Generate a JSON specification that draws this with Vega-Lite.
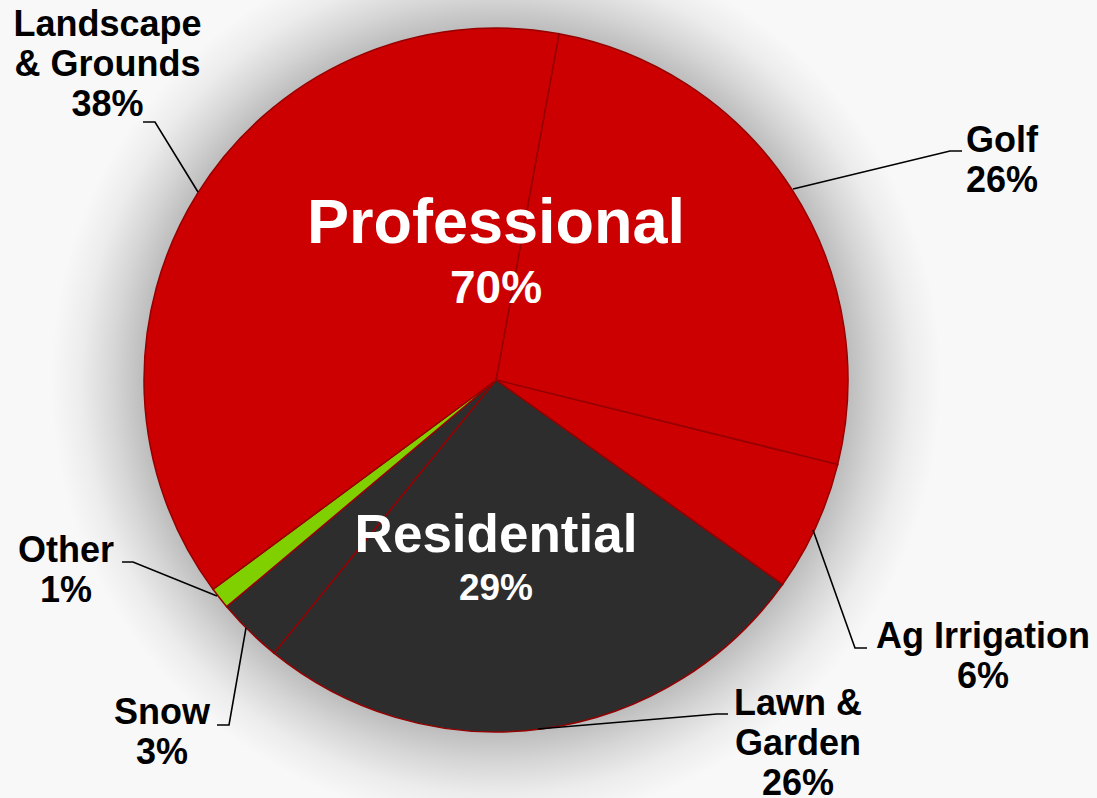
{
  "$schema": "https://vega.github.io/schema/vega-lite/v6.json",
  "width": 1097,
  "height": 798,
  "autosize": {"type": "none"},
  "padding": 0,
  "background": "#f8f8f8",
  "view": {"stroke": null},
  "config": {"font": "Liberation Sans"},
  "datasets": {
    "slices": [
      {"segment": "Golf", "group": "Professional", "share": 26, "idx": 1},
      {"segment": "Ag Irrigation", "group": "Professional", "share": 6, "idx": 2},
      {"segment": "Lawn & Garden", "group": "Residential", "share": 26, "idx": 3},
      {"segment": "Snow", "group": "Residential", "share": 3, "idx": 4},
      {"segment": "Other", "group": "Other", "share": 1, "idx": 5},
      {"segment": "Landscape & Grounds", "group": "Professional", "share": 38, "idx": 6}
    ],
    "labels": [
      {"text": "Landscape\n& Grounds\n38%", "kind": "outer", "x": -110.37, "y": 97.73},
      {"text": "Golf\n26%", "kind": "outer", "x": 143.75, "y": 64.77},
      {"text": "Ag Irrigation\n6%", "kind": "outer", "x": 138.35, "y": -76.14},
      {"text": "Lawn &\nGarden\n26%", "kind": "outer", "x": 85.8, "y": -95.17},
      {"text": "Snow\n3%", "kind": "outer", "x": -94.89, "y": -97.73},
      {"text": "Other\n1%", "kind": "outer", "x": -122.16, "y": -51.7},
      {"text": "Professional", "kind": "proName", "x": 0, "y": 38.92},
      {"text": "70%", "kind": "proPct", "x": 0, "y": 21.88},
      {"text": "Residential", "kind": "resName", "x": 0, "y": -48.86},
      {"text": "29%", "kind": "resPct", "x": 0, "y": -62.5}
    ],
    "leaders": [
      {"segment": "Landscape & Grounds", "pt": 1, "x": -100.28, "y": 73.3},
      {"segment": "Landscape & Grounds", "pt": 2, "x": -96.88, "y": 73.3},
      {"segment": "Landscape & Grounds", "pt": 3, "x": -84.66, "y": 53.41},
      {"segment": "Golf", "pt": 1, "x": 132.39, "y": 65.06},
      {"segment": "Golf", "pt": 2, "x": 128.98, "y": 65.06},
      {"segment": "Golf", "pt": 3, "x": 84.38, "y": 54.26},
      {"segment": "Ag Irrigation", "pt": 1, "x": 105.4, "y": -76.14},
      {"segment": "Ag Irrigation", "pt": 2, "x": 101.99, "y": -76.14},
      {"segment": "Ag Irrigation", "pt": 3, "x": 90.06, "y": -42.61},
      {"segment": "Lawn & Garden", "pt": 1, "x": 65.91, "y": -94.89},
      {"segment": "Lawn & Garden", "pt": 2, "x": 62.78, "y": -94.89},
      {"segment": "Lawn & Garden", "pt": 3, "x": 11.93, "y": -99.15},
      {"segment": "Snow", "pt": 1, "x": -79.26, "y": -98.01},
      {"segment": "Snow", "pt": 2, "x": -75.85, "y": -98.01},
      {"segment": "Snow", "pt": 3, "x": -71.02, "y": -70.45},
      {"segment": "Other", "pt": 1, "x": -106.25, "y": -51.7},
      {"segment": "Other", "pt": 2, "x": -103.13, "y": -51.7},
      {"segment": "Other", "pt": 3, "x": -79.26, "y": -61.36}
    ]
  },
  "layer": [
    {
      "data": {"values": [{"halo": 1}]},
      "mark": {
        "type": "arc",
        "theta": 0,
        "theta2": 6.2832,
        "outerRadius": 445,
        "fill": {
          "gradient": "radial",
          "x1": 0.5, "y1": 0.5, "r1": 0,
          "x2": 0.5, "y2": 0.5, "r2": 0.5,
          "stops": [
            {"offset": 0, "color": "#bcbcbc"},
            {"offset": 0.79, "color": "#bcbcbc"},
            {"offset": 0.86, "color": "#d6d6d6"},
            {"offset": 0.93, "color": "#ececec"},
            {"offset": 1, "color": "#f8f8f8"}
          ]
        }
      },
      "encoding": {
        "x": {"datum": 0, "type": "quantitative", "scale": {"domain": [-140.909, 170.739], "nice": false, "zero": false}, "axis": null},
        "y": {"datum": 0, "type": "quantitative", "scale": {"domain": [-118.75, 107.955], "nice": false, "zero": false}, "axis": null}
      }
    },
    {
      "data": {"name": "slices"},
      "mark": {"type": "arc", "outerRadius": 352, "stroke": "#960000", "strokeWidth": 1.5},
      "encoding": {
        "theta": {"field": "share", "type": "quantitative", "stack": true, "scale": {"range": [0.18, 6.4632]}},
        "order": {"field": "idx", "type": "quantitative"},
        "color": {"field": "group", "type": "nominal", "scale": {"domain": ["Professional", "Residential", "Other"], "range": ["#cc0000", "#2d2d2d", "#80d000"]}, "legend": null},
        "x": {"datum": 0, "type": "quantitative", "scale": {"domain": [-140.909, 170.739], "nice": false, "zero": false}, "axis": null},
        "y": {"datum": 0, "type": "quantitative", "scale": {"domain": [-118.75, 107.955], "nice": false, "zero": false}, "axis": null}
      }
    },
    {
      "data": {"name": "leaders"},
      "mark": {"type": "line", "color": "#000000", "strokeWidth": 1.6},
      "encoding": {
        "x": {"field": "x", "type": "quantitative", "scale": {"domain": [-140.909, 170.739], "nice": false, "zero": false}, "axis": null},
        "y": {"field": "y", "type": "quantitative", "scale": {"domain": [-118.75, 107.955], "nice": false, "zero": false}, "axis": null},
        "detail": {"field": "segment"},
        "order": {"field": "pt", "type": "quantitative"}
      }
    },
    {
      "data": {"name": "labels"},
      "transform": [{"filter": "datum.kind == 'outer'"}],
      "mark": {"type": "text", "fontSize": 36, "fontWeight": "bold", "lineBreak": "\n", "lineHeight": 40, "align": "center", "baseline": "alphabetic", "color": "#000000"},
      "encoding": {
        "x": {"field": "x", "type": "quantitative", "scale": {"domain": [-140.909, 170.739], "nice": false, "zero": false}, "axis": null},
        "y": {"field": "y", "type": "quantitative", "scale": {"domain": [-118.75, 107.955], "nice": false, "zero": false}, "axis": null},
        "text": {"field": "text"}
      }
    },
    {
      "data": {"name": "labels"},
      "transform": [{"filter": "datum.kind == 'proName'"}],
      "mark": {"type": "text", "fontSize": 63, "fontWeight": "bold", "align": "center", "baseline": "alphabetic", "color": "#ffffff"},
      "encoding": {
        "x": {"field": "x", "type": "quantitative", "scale": {"domain": [-140.909, 170.739], "nice": false, "zero": false}, "axis": null},
        "y": {"field": "y", "type": "quantitative", "scale": {"domain": [-118.75, 107.955], "nice": false, "zero": false}, "axis": null},
        "text": {"field": "text"}
      }
    },
    {
      "data": {"name": "labels"},
      "transform": [{"filter": "datum.kind == 'proPct'"}],
      "mark": {"type": "text", "fontSize": 46, "fontWeight": "bold", "align": "center", "baseline": "alphabetic", "color": "#ffffff"},
      "encoding": {
        "x": {"field": "x", "type": "quantitative", "scale": {"domain": [-140.909, 170.739], "nice": false, "zero": false}, "axis": null},
        "y": {"field": "y", "type": "quantitative", "scale": {"domain": [-118.75, 107.955], "nice": false, "zero": false}, "axis": null},
        "text": {"field": "text"}
      }
    },
    {
      "data": {"name": "labels"},
      "transform": [{"filter": "datum.kind == 'resName'"}],
      "mark": {"type": "text", "fontSize": 53, "fontWeight": "bold", "align": "center", "baseline": "alphabetic", "color": "#ffffff"},
      "encoding": {
        "x": {"field": "x", "type": "quantitative", "scale": {"domain": [-140.909, 170.739], "nice": false, "zero": false}, "axis": null},
        "y": {"field": "y", "type": "quantitative", "scale": {"domain": [-118.75, 107.955], "nice": false, "zero": false}, "axis": null},
        "text": {"field": "text"}
      }
    },
    {
      "data": {"name": "labels"},
      "transform": [{"filter": "datum.kind == 'resPct'"}],
      "mark": {"type": "text", "fontSize": 37, "fontWeight": "bold", "align": "center", "baseline": "alphabetic", "color": "#ffffff"},
      "encoding": {
        "x": {"field": "x", "type": "quantitative", "scale": {"domain": [-140.909, 170.739], "nice": false, "zero": false}, "axis": null},
        "y": {"field": "y", "type": "quantitative", "scale": {"domain": [-118.75, 107.955], "nice": false, "zero": false}, "axis": null},
        "text": {"field": "text"}
      }
    }
  ]
}
